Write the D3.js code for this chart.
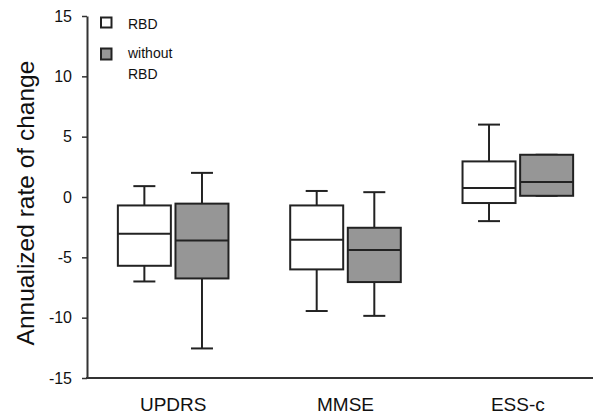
<!DOCTYPE html>
<html>
<head>
<meta charset="utf-8">
<script src="https://cdn.jsdelivr.net/npm/d3@7"></script>
<style>
  html, body { margin: 0; padding: 0; background: #fff; }
  svg { display: block; }
  text { font-family: "Liberation Sans", Arial, Helvetica, sans-serif; fill: #111; }
</style>
</head>
<body>
<script>
const categories = ["UPDRS", "MMSE", "ESS-c"];
const series = ["RBD", "without RBD"];
const yTicks = [-15, -10, -5, 0, 5, 10, 15];

// RBD group: whisker low, Q1, median, Q3, whisker high
const rbdMin    = [-7.0, -9.45, -2.0];
const rbdQ1     = [-5.7, -6.0, -0.5];
const rbdMedian = [-3.05, -3.55, 0.75];
const rbdQ3     = [-0.7, -0.7, 2.95];
const rbdMax    = [0.9, 0.5, 6.0];

// without RBD group
const woMin    = [-12.55, -9.85, 0.1];
const woQ1     = [-6.75, -7.05, 0.1];
const woMedian = [-3.6, -4.4, 1.25];
const woQ3     = [-0.55, -2.55, 3.5];
const woMax    = [2.0, 0.4, 3.5];

const fills = ["#ffffff", "#969696"];

const W = 593, H = 414;
const svg = d3.select("body").append("svg").attr("width", W).attr("height", H);

const y = d3.scaleLinear().domain([-15, 15]).range([378, 16]);
const x = d3.scaleBand().domain(categories).range([87, 604]).padding(0);
const half = 55.3;
const sub = d3.scaleBand().domain(series)
  .range([x.bandwidth() / 2 - half, x.bandwidth() / 2 + half]).paddingInner(0.08);

const stats = [
  categories.map((c, i) => ({cat: c, s: series[0], min: rbdMin[i], q1: rbdQ1[i], med: rbdMedian[i], q3: rbdQ3[i], max: rbdMax[i]})),
  categories.map((c, i) => ({cat: c, s: series[1], min: woMin[i], q1: woQ1[i], med: woMedian[i], q3: woQ3[i], max: woMax[i]}))
].flat();

const stroke = "#222";
const capW = 22;

const g = svg.append("g");
const box = g.selectAll("g.box").data(stats).join("g").attr("class", "box")
  .attr("transform", d => `translate(${x(d.cat) + sub(d.s)},0)`);
const bw = sub.bandwidth();

box.append("line").attr("x1", bw / 2).attr("x2", bw / 2)
  .attr("y1", d => y(d.q3)).attr("y2", d => y(d.max))
  .attr("stroke", stroke).attr("stroke-width", 2);
box.append("line").attr("x1", bw / 2).attr("x2", bw / 2)
  .attr("y1", d => y(d.q1)).attr("y2", d => y(d.min))
  .attr("stroke", stroke).attr("stroke-width", 2);
box.append("line").attr("x1", bw / 2 - capW / 2).attr("x2", bw / 2 + capW / 2)
  .attr("y1", d => y(d.max)).attr("y2", d => y(d.max))
  .attr("stroke", stroke).attr("stroke-width", 2);
box.append("line").attr("x1", bw / 2 - capW / 2).attr("x2", bw / 2 + capW / 2)
  .attr("y1", d => y(d.min)).attr("y2", d => y(d.min))
  .attr("stroke", stroke).attr("stroke-width", 2);
box.append("rect").attr("x", 0).attr("width", bw)
  .attr("y", d => y(d.q3)).attr("height", d => y(d.q1) - y(d.q3))
  .attr("fill", d => fills[series.indexOf(d.s)])
  .attr("stroke", stroke).attr("stroke-width", 2);
box.append("line").attr("x1", 0).attr("x2", bw)
  .attr("y1", d => y(d.med)).attr("y2", d => y(d.med))
  .attr("stroke", stroke).attr("stroke-width", 2);

// y axis
const yAxis = svg.append("g").attr("transform", "translate(87,0)")
  .call(d3.axisLeft(y).tickValues(yTicks).tickFormat(d => String(d))
    .tickSize(5).tickSizeOuter(0).tickPadding(10));
yAxis.select(".domain").attr("stroke", "#333").attr("stroke-width", 2);
yAxis.selectAll(".tick line").attr("stroke", "#333").attr("stroke-width", 1.5);
yAxis.selectAll(".tick text").attr("font-size", 16).style("font-size", "16px").attr("fill", "#111");

// x axis
const xAxis = svg.append("g").attr("transform", `translate(0,${y(-15)})`)
  .call(d3.axisBottom(x).tickSize(0).tickPadding(20));
xAxis.select(".domain").remove();
xAxis.selectAll(".tick text").attr("font-size", 19).style("font-size", "19px").attr("fill", "#111");
svg.append("line").attr("x1", 86).attr("x2", W).attr("y1", y(-15)).attr("y2", y(-15))
  .attr("stroke", "#333").attr("stroke-width", 2);

// y label
svg.append("text").attr("transform", `translate(33.5,${y(-0.5)}) rotate(-90)`)
  .attr("text-anchor", "middle").attr("font-size", 24.5).style("font-size", "24.5px")
  .text("Annualized rate of change");

// legend
const leg = svg.append("g").attr("font-size", 14).style("font-size", "14px");
leg.append("rect").attr("x", 101).attr("y", 17.5).attr("width", 10.5).attr("height", 10)
  .attr("fill", fills[0]).attr("stroke", stroke).attr("stroke-width", 2);
leg.append("rect").attr("x", 101).attr("y", 48.5).attr("width", 10.5).attr("height", 11)
  .attr("fill", fills[1]).attr("stroke", stroke).attr("stroke-width", 2);
leg.append("text").attr("x", 128).attr("y", 29.3).attr("font-size", 14).style("font-size", "14px").text(series[0]);
const t2 = leg.append("text").attr("x", 128).attr("y", 58.3).attr("font-size", 14).style("font-size", "14px");
t2.append("tspan").attr("x", 128).text("without");
t2.append("tspan").attr("x", 128).attr("dy", 21).text("RBD");
</script>
</body>
</html>
